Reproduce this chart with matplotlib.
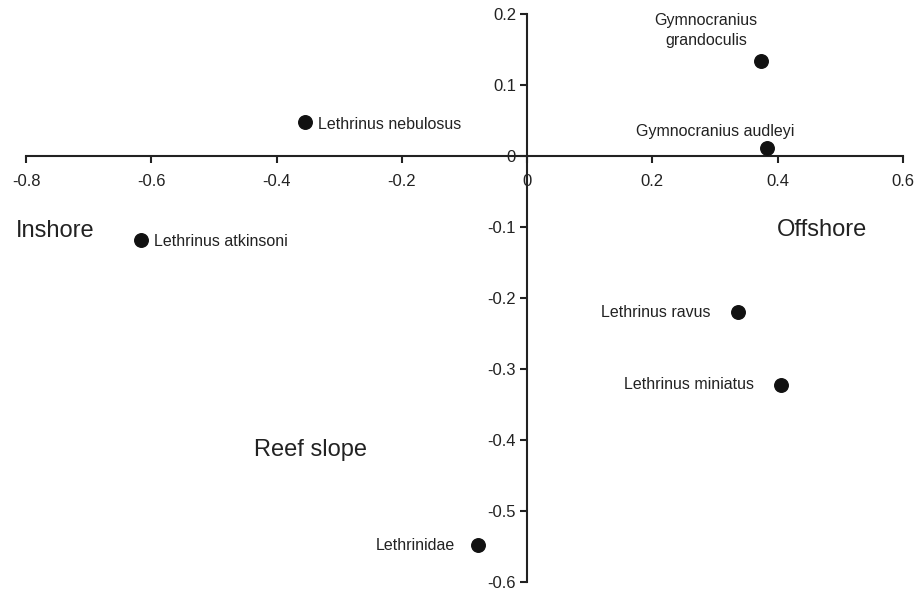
import matplotlib
matplotlib.use("Agg")
import matplotlib.pyplot as plt

plt.rcParams['font.family'] = ['Liberation Sans', 'DejaVu Sans']

species = ["Lethrinus nebulosus", "Lethrinus atkinsoni", "Gymnocranius\ngrandoculis",
           "Gymnocranius audleyi", "Lethrinus ravus", "Lethrinus miniatus", "Lethrinidae"]
x_vals = [-0.354, -0.616, 0.374, 0.383, 0.337, 0.405, -0.078]
y_vals = [0.048, -0.118, 0.134, 0.011, -0.220, -0.322, -0.548]
x_ticks = [-0.8, -0.6, -0.4, -0.2, 0, 0.2, 0.4, 0.6]
x_tick_labels = ["-0.8", "-0.6", "-0.4", "-0.2", "0", "0.2", "0.4", "0.6"]
y_ticks = [-0.6, -0.5, -0.4, -0.3, -0.2, -0.1, 0, 0.1, 0.2]
y_tick_labels = ["-0.6", "-0.5", "-0.4", "-0.3", "-0.2", "-0.1", "0", "0.1", "0.2"]
regions = ["Inshore", "Offshore", "Reef slope"]
region_x = [-0.753, 0.471, -0.346]
region_y = [-0.106, -0.104, -0.414]

# label offsets (points) and alignment
offsets = [(9, -2, 'left', 'center'), (9, -1, 'left', 'center'), (-40, 22, 'center', 'center'),
           (-37, 12, 'center', 'center'), (-20, 0, 'right', 'center'), (-19, 0, 'right', 'center'),
           (-17, 0, 'right', 'center')]

fig = plt.figure(figsize=(9.24, 5.9), dpi=100)
ax = fig.add_axes([26/924, 8/590, 877/924, 568/590])
ax.scatter(x_vals, y_vals, s=95, color='#111111', zorder=3)
for name, x, y, (dx, dy, ha, va) in zip(species, x_vals, y_vals, offsets):
    ax.annotate(name, (x, y), xytext=(dx, dy), textcoords='offset points',
                ha=ha, va=va, fontsize=11.5, color='#222222', linespacing=1.4)
for r, x, y in zip(regions, region_x, region_y):
    ax.text(x, y, r, fontsize=17, ha='center', va='center', color='#222222')

ax.set_xlim(-0.8, 0.6)
ax.set_ylim(-0.6, 0.2)
ax.spines['left'].set_position(('data', 0))
ax.spines['bottom'].set_position(('data', 0))
ax.spines['right'].set_visible(False)
ax.spines['top'].set_visible(False)
for s in ('left', 'bottom'):
    ax.spines[s].set_linewidth(1.5)
    ax.spines[s].set_color('#222222')
ax.set_xticks(x_ticks)
ax.set_xticklabels(x_tick_labels)
ax.set_yticks(y_ticks)
ax.set_yticklabels(y_tick_labels)
ax.tick_params(axis='both', direction='out', length=5, width=1.5, color='#222222',
               labelsize=12, labelcolor='#222222')
ax.tick_params(axis='x', pad=8)
ax.tick_params(axis='y', pad=3)
ax.patch.set_visible(False)
fig.savefig("out.png", dpi=100)
